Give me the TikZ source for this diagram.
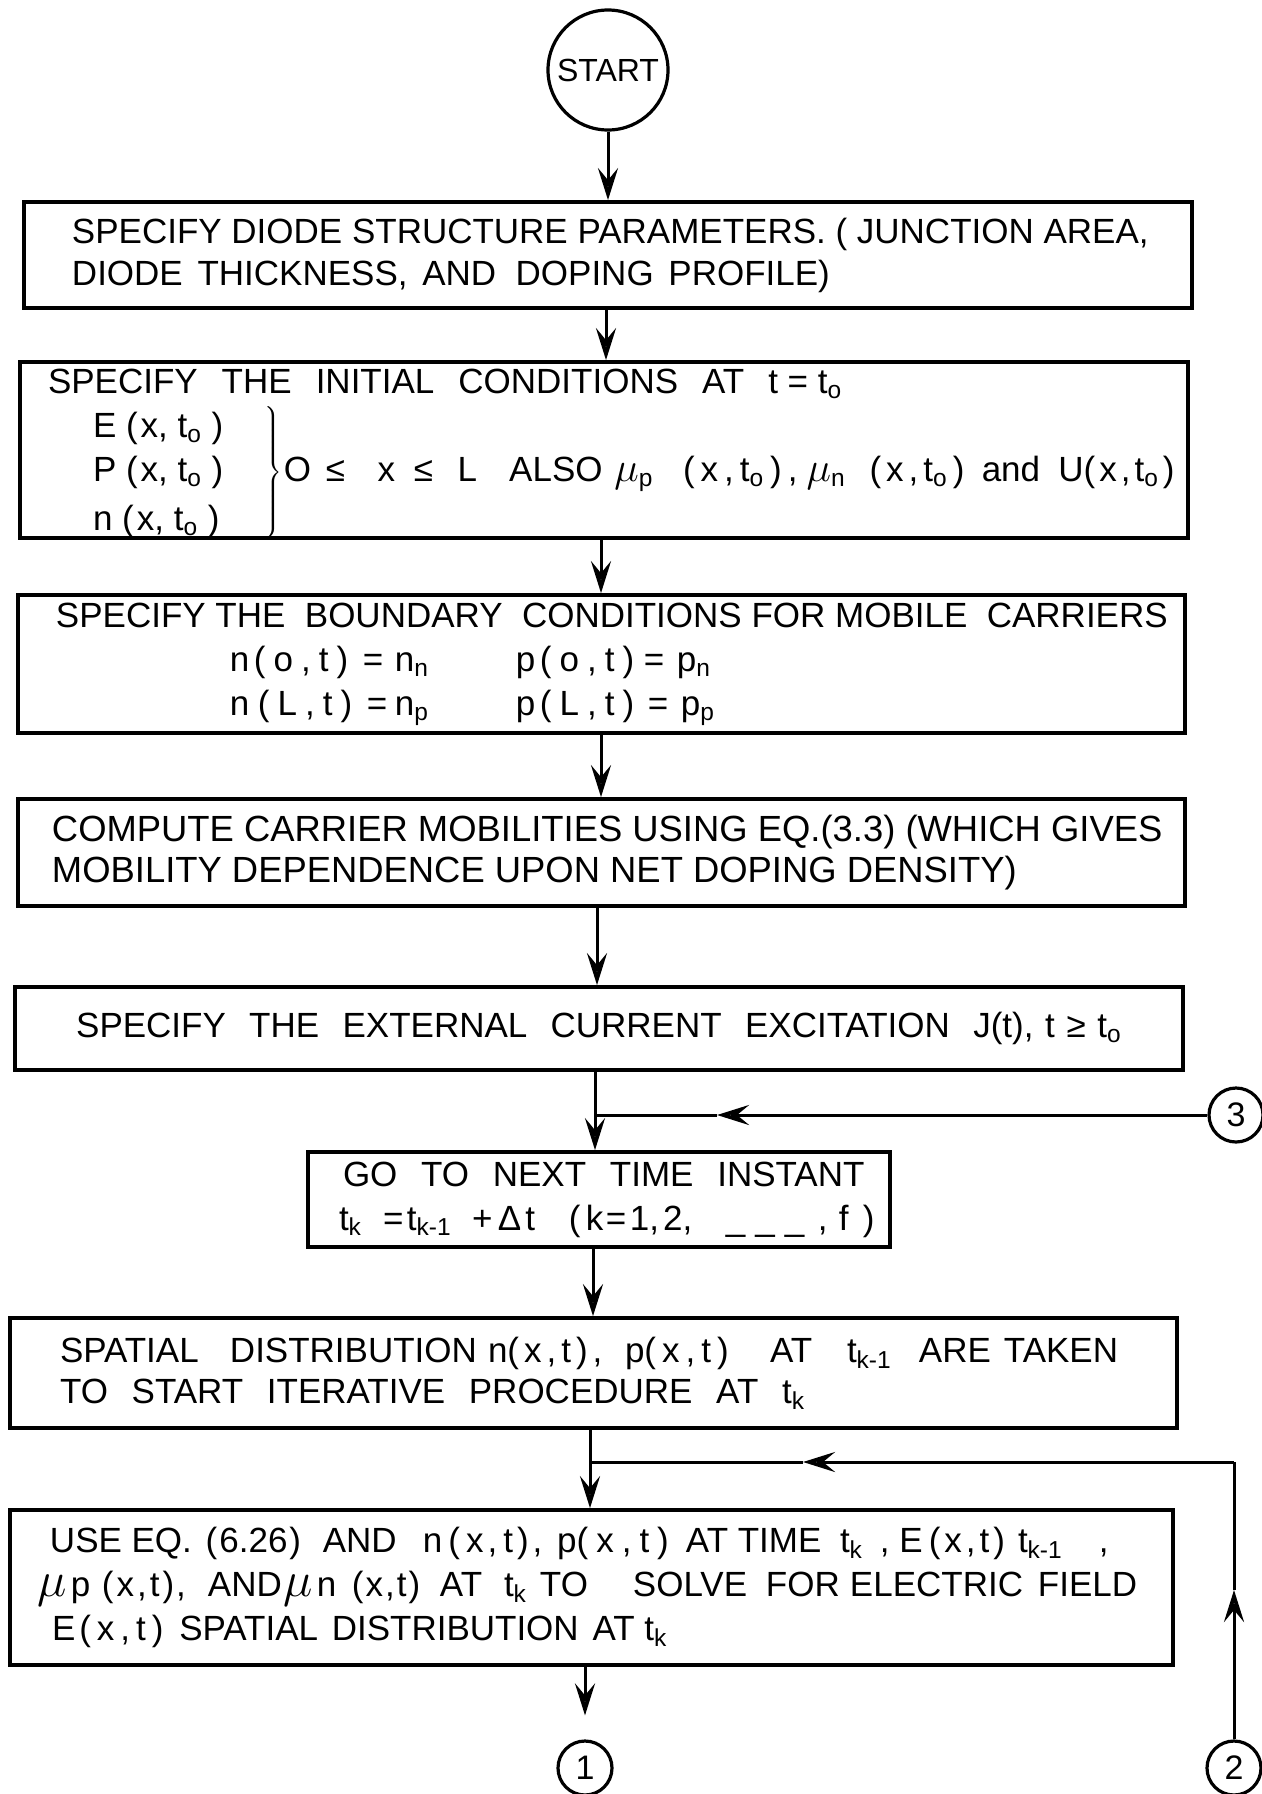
\documentclass[tikz,border=0pt]{standalone}
\usepackage{fontspec}
\setmainfont{Liberation Sans}
\usetikzlibrary{arrows.meta}
\newcommand\sbs[1]{\textsubscript{#1}}
\newcommand\sk[1]{\hspace{#1pt}}
\newcommand\putat[2]{\leavevmode\rlap{\hspace*{#1}#2}}
\newcommand\mmu{{\fontsize{21}{21}\selectfont$\mu$}}
\newcommand\mmub{{\fontsize{26}{26}\selectfont$\mu$}}
\tikzset{
  box/.style={draw, line width=1.9pt, rectangle, inner xsep=0pt, inner ysep=0pt, align=flush left},
  conn/.style={line width=1.5pt},
  arr/.style={conn, -{Stealth[length=16pt,width=10pt,inset=6pt,open,line width=1.9pt]}},
  term/.style={draw, circle, line width=1.6pt, inner sep=0pt},
}
\begin{document}
\begin{tikzpicture}[x=0.5pt,y=-0.5pt]
\useasboundingbox (0,0) rectangle (1262,1794);
% terminals
\node[term, minimum size=60pt, font=\fontsize{16}{19}\selectfont] (start) at (608,70) {START};
\node[term, minimum size=27pt, font=\fontsize{17}{20}\selectfont] (c3) at (1236,1115) {3};
\node[term, minimum size=27pt, font=\fontsize{17}{20}\selectfont] (c1) at (585,1768) {1};
\node[term, minimum size=27pt, font=\fontsize{17}{20}\selectfont] (c2) at (1234,1768) {2};
% boxes
\node[box, text width=584pt, minimum height=53pt, font=\fontsize{17.5}{21}\selectfont] (b1) at (608,255)
 {\hspace*{24pt}SPECIFY DIODE STRUCTURE PARAMETERS. ( JUNCTION AREA,\\
  \hspace*{24pt}DIODE\sk{2.5} THICKNESS,\sk{2.5} AND\ \ DOPING\sk{2.5} PROFILE)};
\node[box, text width=584pt, minimum height=88pt, font=\fontsize{17.5}{22}\selectfont] (b2) at (604,450)
 {\hspace*{14pt}SPECIFY\sk{12}THE\sk{12}INITIAL\sk{12}CONDITIONS\sk{12}AT\sk{12}t = t\sbs{o}\\
  \putat{36.5pt}{E (\sk{1.5}x, t\sbs{o} )}\\
  \putat{36.5pt}{P (\sk{1.5}x, t\sbs{o} )}%
  \putat{121pt}{$\smash{\left.\vrule height 35pt depth 29pt width 0pt\right\}}$}%
  \putat{131.9pt}{O}\putat{153pt}{≤}\putat{178.8pt}{x}\putat{197pt}{≤}\putat{218.8pt}{L}\putat{244.6pt}{ALSO}%
  \putat{297.2pt}{\mmu\sbs{p}}\putat{331.5pt}{(\sk{3}x\sk{3},\sk{3}t\sbs{o}\sk{3})\sk{3},}%
  \putat{393.3pt}{\mmu\sbs{n}}\putat{424.8pt}{(\sk{2.5}x\sk{2.5},\sk{2.5}t\sbs{o}\sk{2.5})}%
  \putat{480.9pt}{and}\putat{519.2pt}{U(\sk{2}x\sk{2},\sk{2}t\sbs{o}\sk{2})}\\[2.5pt]
  \putat{36.5pt}{n (\sk{1.5}x, t\sbs{o} )}\par\nointerlineskip\vspace*{-3pt}\hbox{}};
\node[box, text width=583.5pt, minimum height=69pt, font=\fontsize{17.5}{22}\selectfont] (b3) at (601.5,664)
 {\hspace*{19pt}SPECIFY THE\ \ BOUNDARY\ \ CONDITIONS FOR MOBILE\ \ CARRIERS\\
  \putat{106pt}{n}\putat{118pt}{(\sk{4}o\sk{4},\sk{4}t\sk{4})}\putat{172.5pt}{=}\putat{188.5pt}{n\sbs{n}}%
  \putat{249pt}{p}\putat{261pt}{(\sk{4}o\sk{4},\sk{4}t\sk{4})}\putat{313pt}{=}\putat{329.5pt}{p\sbs{n}}\\
  \putat{106pt}{n}\putat{120pt}{(\sk{4}L\sk{4},\sk{4}t\sk{4})}\putat{174.5pt}{=}\putat{188.5pt}{n\sbs{p}}%
  \putat{249pt}{p}\putat{261pt}{(\sk{4}L\sk{4},\sk{4}t\sk{4})}\putat{315pt}{=}\putat{331.5pt}{p\sbs{p}}};
\node[box, text width=583.5pt, minimum height=53.5pt, font=\fontsize{18.2}{20.5}\selectfont] (b4) at (601.5,852.5)
 {\hspace*{17pt}COMPUTE CARRIER MOBILITIES USING EQ.(3.3) (WHICH GIVES\\
  \hspace*{17pt}MOBILITY DEPENDENCE UPON NET DOPING DENSITY)};
\node[box, align=center, text width=584pt, minimum height=41.5pt, font=\fontsize{17.5}{21}\selectfont] (b5) at (599,1028.5)
 {SPECIFY\ \ THE\ \ EXTERNAL\ \ CURRENT\ \ EXCITATION\ \ J(t), t ≥ t\sbs{o}};
\node[box, text width=291pt, minimum height=47.5pt, font=\fontsize{17.5}{22}\selectfont] (b6) at (599,1199.5)
 {\hspace*{17.5pt}GO\sk{7} TO\sk{7} NEXT\sk{7} TIME\sk{7} INSTANT\\
  \putat{15.5pt}{t\sbs{k}}\putat{37.5pt}{=}\putat{49.5pt}{t\sbs{k-1}}\putat{82pt}{+}\putat{95pt}{Δ\sk{2}t}%
  \putat{130.5pt}{(}\putat{139pt}{k}\putat{149pt}{=}\putat{161pt}{1,\sk{2}2,}\putat{209pt}{\_\sk{5}\_\sk{5}\_}%
  \putat{255pt}{,}\putat{265.5pt}{f}\putat{277.5pt}{)}};
\node[box, text width=583.5pt, minimum height=55pt, font=\fontsize{17.5}{20.5}\selectfont] (b7) at (593.5,1373)
 {\putat{25pt}{SPATIAL}\putat{110pt}{DISTRIBUTION}\putat{239pt}{n(\sk{2.5}x\sk{2.5},\sk{2.5}t\sk{2.5})\sk{2.5},}%
  \putat{307.5pt}{p(\sk{3}x\sk{3},\sk{3}t\sk{3})}\putat{380pt}{AT}\putat{418.5pt}{t\sbs{k-1}}\putat{454.5pt}{ARE}\putat{497pt}{TAKEN}\\
  \hspace*{25pt}TO\sk{7} START\sk{7} ITERATIVE\sk{7} PROCEDURE\sk{7} AT\sk{7} t\sbs{k}};
\node[box, text width=581.5pt, minimum height=77.5pt, font=\fontsize{17.5}{22}\selectfont] (b8) at (591.5,1587.5)
 {\putat{20pt}{USE EQ.\sk{2} (\sk{1}6.26\sk{1})\sk{6} AND}\putat{206.5pt}{n\sk{3}(\sk{3}x\sk{2},\sk{3}t\sk{2})\sk{2},}%
  \putat{273.6pt}{p(\sk{4}x\sk{4},\sk{4}t\sk{4})}\putat{338pt}{AT TIME}\putat{415pt}{t\sbs{k}}%
  \putat{435pt}{, E\sk{3}(\sk{2}x\sk{2},\sk{2}t\sk{2})}\putat{504pt}{t\sbs{k-1}\sk{18},}\\
  \putat{14pt}{\mmub}\putat{30.5pt}{p}\putat{46pt}{(\sk{1.5}x\sk{1.5},\sk{1.5}t\sk{1.5})\sk{1},}\putat{99pt}{AND}%
  \putat{137pt}{\mmub}\putat{153.5pt}{n}\putat{171pt}{(\sk{1}x\sk{1},\sk{1}t\sk{1})}\putat{215pt}{AT}\putat{247pt}{t\sbs{k}}%
  \putat{265pt}{TO}\putat{311.5pt}{SOLVE}\putat{378pt}{FOR}\putat{420pt}{ELECTRIC}\putat{514pt}{FIELD}\\
  \hspace*{21pt}E\sk{2}(\sk{3}x\sk{3},\sk{3}t\sk{3})\sk{3} SPATIAL\sk{2} DISTRIBUTION\sk{2} AT t\sbs{k}};
% connector helper coordinates
\coordinate (x12) at (606,0);
\coordinate (x23) at (601,0);
\coordinate (x34) at (601,0);
\coordinate (x45) at (597,0);
\coordinate (j3) at (595,1115);
\coordinate (a3) at (717,1115);
\coordinate (x67) at (593,0);
\coordinate (j2) at (590,1462);
\coordinate (k2) at (1234,1462);
\coordinate (l2) at (803,1462);
\coordinate (u2) at (1234,1590);
% connectors
\draw[arr] (start) -- (start |- b1.north);
\draw[arr] (b1.south -| x12) -- (b2.north -| x12);
\draw[arr] (b2.south -| x23) -- (b3.north -| x23);
\draw[arr] (b3.south -| x34) -- (b4.north -| x34);
\draw[arr] (b4.south -| x45) -- (b5.north -| x45);
\draw[conn] (b5.south -| j3) -- (j3);
\draw[arr] (j3) -- (b6.north -| j3);
\draw[arr] (c3) -- (a3);
\draw[conn] (a3) -- (j3);
\draw[arr] (b6.south -| x67) -- (b7.north -| x67);
\draw[conn] (b7.south -| j2) -- (j2);
\draw[arr] (j2) -- (b8.north -| j2);
\draw[arr] (c2) -- (u2);
\draw[conn] (u2) -- (k2);
\draw[arr] (k2) -- (l2);
\draw[conn] (l2) -- (j2);
\draw[arr, shorten >=12pt] (b8.south -| c1) -- (c1);
\end{tikzpicture}
\end{document}
